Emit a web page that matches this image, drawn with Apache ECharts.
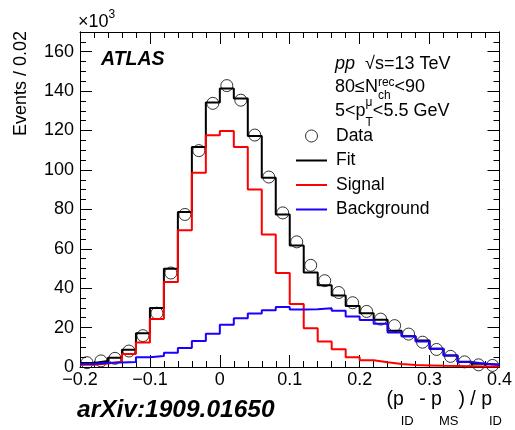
<!DOCTYPE html>
<html>
<head>
<meta charset="utf-8">
<script src="https://cdn.jsdelivr.net/npm/echarts@6.0.0/dist/echarts.min.js"></script>
<style>
  html, body { margin: 0; padding: 0; background: #fff; }
  #main { width: 515px; height: 430px; }
</style>
</head>
<body>
<div id="main"></div>
<script>
// bins of (p_ID - p_MS)/p_ID, width 0.02
const binLow = [-0.20, -0.18, -0.16, -0.14, -0.12, -0.10, -0.08, -0.06, -0.04, -0.02,
  0.00, 0.02, 0.04, 0.06, 0.08, 0.10, 0.12, 0.14, 0.16, 0.18,
  0.20, 0.22, 0.24, 0.26, 0.28, 0.30, 0.32, 0.34, 0.36, 0.38];
const binCenter = [-0.19, -0.17, -0.15, -0.13, -0.11, -0.09, -0.07, -0.05, -0.03, -0.01,
  0.01, 0.03, 0.05, 0.07, 0.09, 0.11, 0.13, 0.15, 0.17, 0.19,
  0.21, 0.23, 0.25, 0.27, 0.29, 0.31, 0.33, 0.35, 0.37, 0.39];
const xMin = -0.2, xMax = 0.4;

// Events / 0.02, in units of 10^3
const dataVals = [2.2, 3.1, 4.4, 8.1, 15.9, 27.3, 47.7, 77.4, 109.8, 133.8,
  142.8, 135.4, 117.7, 96.4, 78.2, 63.5, 51.6, 43.8, 37.8, 32.6,
  28.2, 24.3, 21.0, 16.7, 12.6, 8.9, 5.4, 2.6, 1.1, 0.8];
const fitVals = [2.0, 3.0, 4.7, 8.7, 17.1, 29.9, 49.9, 78.7, 111.6, 134.2,
  141.3, 136.3, 117.2, 96.0, 77.4, 61.6, 47.9, 41.5, 36.3, 31.0,
  27.3, 24.0, 18.4, 15.6, 13.5, 9.3, 5.8, 2.7, 1.6, 1.1];
const signalVals = [1.2, 1.8, 2.7, 6.6, 12.4, 24.4, 43.1, 69.4, 98.6, 117.6,
  119.8, 111.6, 90.1, 67.2, 47.7, 32.0, 19.7, 12.9, 9.0, 5.0,
  3.4, 2.4, 1.5, 1.0, 0.8, 0.6, 0.5, 0.4, 0.3, 0.3];
const backgroundVals = [1.5, 2.2, 2.3, 2.5, 5.0, 5.6, 7.2, 9.6, 13.2, 16.9,
  21.5, 24.7, 27.1, 28.8, 30.4, 29.2, 29.3, 29.8, 28.5, 25.6,
  23.9, 22.0, 17.5, 15.6, 13.0, 9.3, 5.8, 2.6, 1.7, 1.2];

const xTickLabels = ['\u22120.2', '\u22120.1', '0', '0.1', '0.2', '0.3', '0.4'];
const yTickLabels = ['0', '20', '40', '60', '80', '100', '120', '140', '160'];

const FAM = '"Liberation Sans", Arial, Helvetica, sans-serif';

// step outline: one point per lower edge, plus the last upper edge
function hist(vals) {
  const pts = binLow.map((x, i) => [x, vals[i]]);
  pts.push([xMax, vals[vals.length - 1]]);
  return pts;
}

// lay out text pieces (with sub/superscripts) as graphic text elements
const mctx = document.createElement('canvas').getContext('2d');
function fontOf(p) {
  return (p.style || 'normal') + ' ' + (p.weight || 'normal') + ' ' + p.size + 'px ' + FAM;
}
function tw(p) { mctx.font = fontOf(p); return mctx.measureText(p.t).width; }
function textRun(pieces, x, base, align) {
  const placed = [];
  let cur = 0, i = 0;
  while (i < pieces.length) {
    const p = pieces[i];
    if (p.stack) {
      const q = pieces[i + 1];
      placed.push([p, cur], [q, cur]);
      cur += Math.max(tw(p), tw(q));
      i += 2;
    } else {
      placed.push([p, cur + (p.dx || 0)]);
      cur += tw(p) + (p.dx || 0);
      i += 1;
    }
  }
  const x0 = align === 'right' ? x - cur : x;
  return placed.map(([p, dx]) => ({
    type: 'text', silent: true,
    x: x0 + dx, y: base + (p.dy || 0) - 0.35 * p.size,
    style: { text: p.t, font: fontOf(p), fill: '#000', align: 'left', verticalAlign: 'middle' }
  }));
}

const texts = [].concat(
  textRun([{ t: '\u00d710', size: 18 }, { t: '3', size: 12, dy: -9 }], 78, 28),
  textRun([{ t: 'ATLAS', size: 19.5, style: 'italic', weight: 'bold' }], 101, 66),
  textRun([{ t: 'pp', size: 18, style: 'italic' }, { t: '  \u221as=13 TeV', size: 18 }], 335, 70),
  textRun([{ t: '80\u2264N', size: 18 }, { t: 'rec', size: 12, dy: -6.5, stack: true }, { t: 'ch', size: 12, dy: 6.5 },
           { t: '<90', size: 18 }], 335, 93.5),
  textRun([{ t: '5<p', size: 18 }, { t: '\u03bc', size: 12, dy: -11, stack: true }, { t: 'T', size: 12, dy: 9.5 },
           { t: '<5.5 GeV', size: 18 }], 335, 117.5),
  textRun([{ t: '(p', size: 19.5 }, { t: 'ID', size: 13, dy: 20, dx: -3 }, { t: ' - p', size: 19.5 },
           { t: 'MS', size: 13, dy: 20, dx: -3 }, { t: ') / p', size: 19.5 }, { t: 'ID', size: 13, dy: 20, dx: -3 }],
          502, 406, 'right'),
  textRun([{ t: 'arXiv:1909.01650', size: 24.5, style: 'italic', weight: 'bold' }], 77, 418.5)
);
texts.push({
  type: 'text', silent: true, x: 21, y: 31, rotation: Math.PI / 2,
  style: { text: 'Events / 0.02', font: '18px ' + FAM, fill: '#000', align: 'right', verticalAlign: 'middle' }
});

const lineAxis = { show: true, onZero: false, lineStyle: { color: '#000', width: 1 } };
function xAx(pos, labels) {
  return {
    type: 'value', position: pos, min: xMin, max: xMax, interval: 0.1,
    axisLine: lineAxis,
    axisTick: { inside: true, length: 12, lineStyle: { color: '#000' } },
    minorTick: { show: true, splitNumber: 5, length: 6, lineStyle: { color: '#000' } },
    splitLine: { show: false },
    axisLabel: {
      show: labels, margin: 4, fontSize: 18, fontFamily: FAM, color: '#000',
      formatter: v => xTickLabels[Math.round((v - xMin) / 0.1)]
    }
  };
}
function yAx(pos, step, len, labels) {
  return {
    type: 'value', position: pos, min: 0, max: 170, interval: step,
    axisLine: lineAxis,
    axisTick: { inside: true, length: len, lineStyle: { color: '#000' } },
    splitLine: { show: false },
    axisLabel: {
      show: labels, margin: 6, fontSize: 18, fontFamily: FAM, color: '#000', showMaxLabel: false,
      formatter: v => yTickLabels[Math.round(v / 20)] || ''
    }
  };
}

const noMarker = { color: 'rgba(0,0,0,0)', borderWidth: 0 };
const openCircle = { color: 'rgba(0,0,0,0)', borderColor: '#000', borderWidth: 1 };
const chart = echarts.init(document.getElementById('main'), null, { renderer: 'canvas' });
chart.setOption({
  animation: false,
  backgroundColor: '#fff',
  grid: { left: 80, right: 13, top: 32, bottom: 63, containLabel: false },
  xAxis: [xAx('bottom', true), xAx('top', false)],
  yAxis: [yAx('left', 20, 12, true), yAx('left', 5, 6, false), yAx('right', 20, 12, false), yAx('right', 5, 6, false)],
  legend: {
    orient: 'vertical', left: 290, top: 122, itemWidth: 31, itemHeight: 12, itemGap: 6.5,
    selectedMode: false,
    textStyle: { fontSize: 17.5, fontFamily: FAM, color: '#000', lineHeight: 18, padding: [0, 0, 0, 4] },
    data: [
      { name: 'Data', itemStyle: openCircle },
      { name: 'Fit', itemStyle: noMarker },
      { name: 'Signal', itemStyle: noMarker },
      { name: 'Background', itemStyle: noMarker }
    ]
  },
  series: [
    { name: 'Fit', type: 'line', step: 'end', symbol: 'none', data: hist(fitVals),
      lineStyle: { color: '#000', width: 2 }, itemStyle: noMarker },
    { name: 'Signal', type: 'line', step: 'end', symbol: 'none', data: hist(signalVals),
      lineStyle: { color: '#ff0000', width: 2 }, itemStyle: noMarker },
    { name: 'Background', type: 'line', step: 'end', symbol: 'none', data: hist(backgroundVals),
      lineStyle: { color: '#1a00ff', width: 2 }, itemStyle: noMarker },
    { name: 'Data', type: 'scatter', symbol: 'circle', symbolSize: 12,
      data: binCenter.map((x, i) => [x, dataVals[i]]),
      itemStyle: openCircle }
  ],
  graphic: texts
});
</script>
</body>
</html>
